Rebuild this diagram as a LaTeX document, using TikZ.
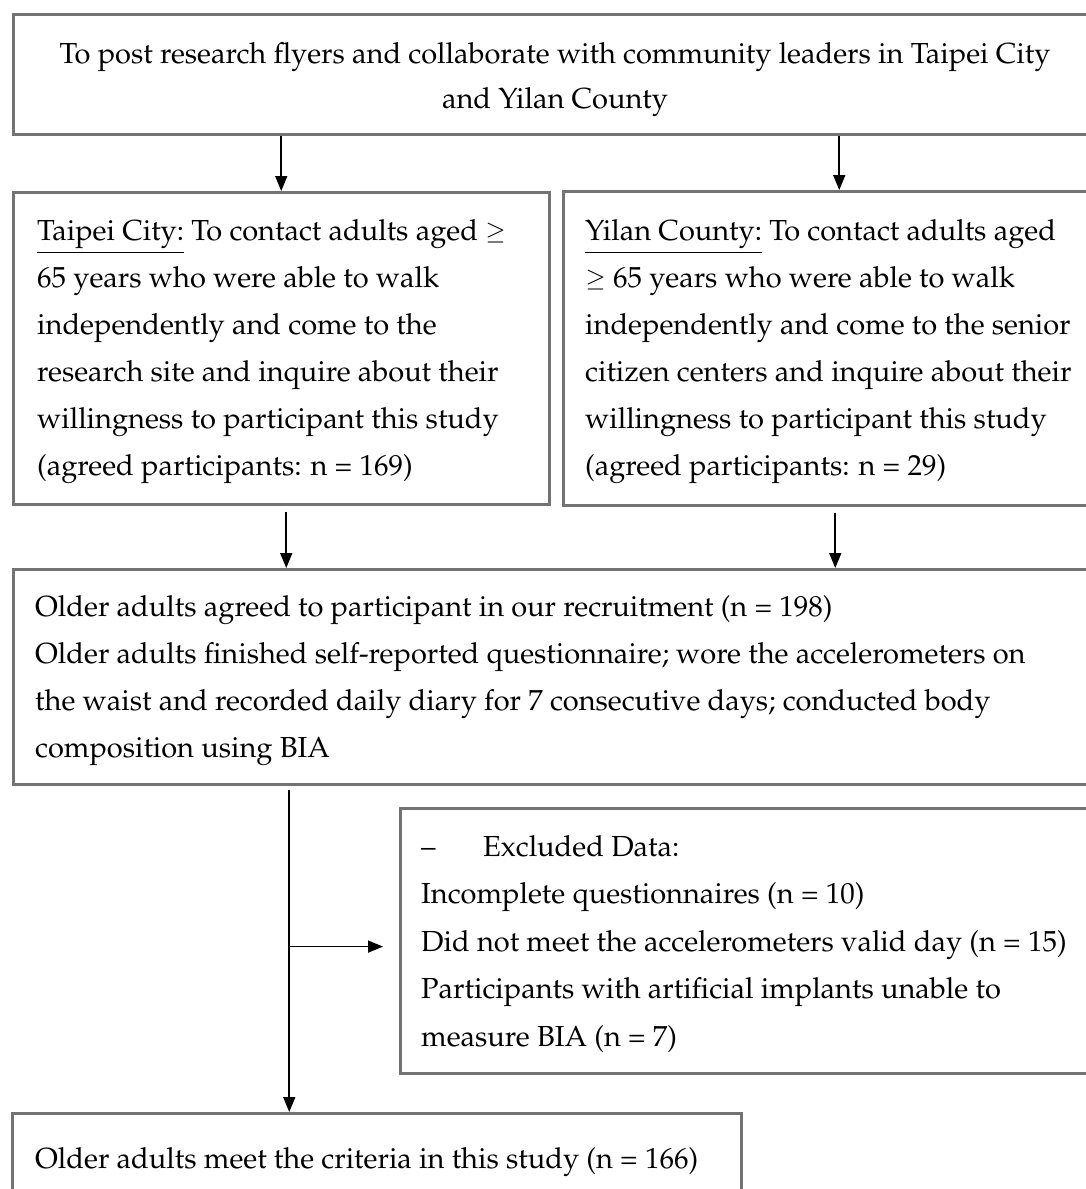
\documentclass[tikz,border=0pt]{standalone}
\usepackage[T1]{fontenc}
\usepackage{mathpazo}
\usetikzlibrary{arrows.meta}
\tikzset{
  box/.style={draw=black!55, line width=2.5pt, fill=none, inner sep=0pt, anchor=north west},
  txt/.style={anchor=base west, inner sep=0pt, font=\fontsize{29}{47}\selectfont},
  ctxt/.style={anchor=base, inner sep=0pt, font=\fontsize{29}{47}\selectfont},
  arr/.style={draw=black, line width=1.6pt, -{Triangle[length=15pt,width=12pt]}},
  ln/.style={draw=black, line width=1.6pt}
}
\newcommand{\gesym}{\raisebox{1pt}{\scalebox{0.85}{$\geq$}}}
\newcommand{\ulin}[1]{\underline{\smash{#1}}}
\begin{document}
\begin{tikzpicture}[x=1pt,y=-1pt]
\useasboundingbox (0,0) rectangle (1086,1189);
\clip (0,0) rectangle (1086,1189);
\fill[white] (0,0) rectangle (1086,1189);
% boxes
\node[box, minimum width=1086pt, minimum height=120pt] (top) at (12,13) {};
\node[box, minimum width=536pt, minimum height=312pt] (tp) at (12,191) {};
\node[box, minimum width=552pt, minimum height=314pt] (yl) at (562,190) {};
\node[box, minimum width=1088pt, minimum height=215pt] (mid) at (12,568) {};
\node[box, minimum width=701pt, minimum height=265pt] (exc) at (399,807) {};
\node[box, minimum width=729pt, minimum height=100pt] (fin) at (11,1112) {};
% top text
\node[ctxt] (top1) at (555,63) {To post research flyers and collaborate with community leaders in Taipei City};
\node[ctxt] (top2) at (555,108) {and Yilan County};
% Taipei
\node[txt] (tp1) at (37,240) {\underline{Taipei City:} To contact adults aged \gesym};
\node[txt] (tp2) at (37,287) {65 years who were able to walk};
\node[txt] (tp3) at (37,334) {independently and come to the};
\node[txt] (tp4) at (37,381) {research site and inquire about their};
\node[txt] (tp5) at (37,428) {willingness to participant this study};
\node[txt] (tp6) at (37,475) {(agreed participants: n = 169)};
% Yilan
\node[txt] (yl1) at (585,240) {\underline{Yilan County:} To contact adults aged};
\node[txt] (yl2) at (585,287) {\gesym{} 65 years who were able to walk};
\node[txt] (yl3) at (585,334) {independently and come to the senior};
\node[txt] (yl4) at (585,381) {citizen centers and inquire about their};
\node[txt] (yl5) at (585,428) {willingness to participant this study};
\node[txt] (yl6) at (585,475) {(agreed participants: n = 29)};
% middle
\node[txt] (m1) at (35,616) {Older adults agreed to participant in our recruitment (n = 198)};
\node[txt] (m2) at (35,663) {Older adults finished self-reported questionnaire; wore the accelerometers on};
\node[txt] (m3) at (35,710) {the waist and recorded daily diary for 7 consecutive days; conducted body};
\node[txt] (m4) at (35,757) {composition using BIA};
% excluded
\node[txt] (e0) at (421,856) {--};
\node[txt] (e1) at (483,856) {Excluded Data:};
\node[txt] (e2) at (421,903) {Incomplete questionnaires (n = 10)};
\node[txt] (e3) at (421,951) {Did not meet the accelerometers valid day (n = 15)};
\node[txt] (e4) at (421,998) {Participants with artificial implants unable to};
\node[txt] (e5) at (421,1046) {measure BIA (n = 7)};
% final
\node[txt] (f1) at (35,1168) {Older adults meet the criteria in this study (n = 166)};
% connectors
\draw[arr] (top.south -| tp.north) -- (tp.north);
\draw[arr] (top.south -| yl.north) -- (yl.north);
\draw[arr] ([xshift=5pt,yshift=-6pt]tp.south) -- ([xshift=5pt]tp.south |- mid.north);
\draw[arr] ([xshift=-4pt,yshift=-6pt]yl.south) -- ([xshift=-4pt]yl.south |- mid.north);
\coordinate (br) at ([xshift=-268pt,yshift=-4pt]mid.south);
\coordinate (bj) at ([yshift=-2pt]br |- e3.west);
\draw[arr] (br) -- (br |- fin.north);
\draw[arr] (bj) -- ([xshift=-16pt]exc.west |- bj);
\end{tikzpicture}
\end{document}
